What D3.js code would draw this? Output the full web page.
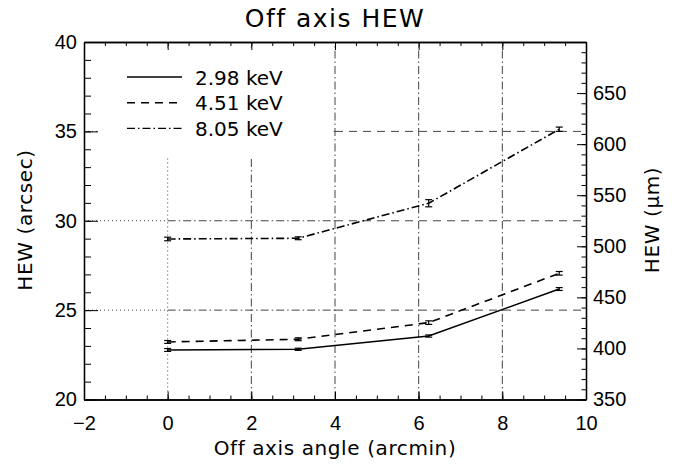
<!DOCTYPE html>
<html>
<head>
<meta charset="utf-8">
<script src="https://cdn.jsdelivr.net/npm/d3@7"></script>
<style>
  body { margin: 0; background: #fff; }
  svg { display: block; font-family: 'DejaVu Sans', sans-serif; }
</style>
</head>
<body>
<svg id="svg" width="683" height="465"></svg>
<script>
// data
var angles = [0, 3.12, 6.24, 9.36];          // arcmin
var hew298 = [22.77, 22.81, 23.55, 26.18];   // arcsec
var err298 = [0.08, 0.06, 0.06, 0.08];
var hew451 = [23.22, 23.37, 24.30, 27.06];
var err451 = [0.08, 0.08, 0.10, 0.10];
var hew805 = [28.98, 29.02, 30.98, 35.12];
var err805 = [0.10, 0.08, 0.20, 0.12];
var seriesNames = ['2.98 keV', '4.51 keV', '8.05 keV'];

var xTicks = [-2, 0, 2, 4, 6, 8, 10];
var yTicks = [20, 25, 30, 35, 40];
var umTicks = [350, 400, 450, 500, 550, 600, 650];

// reference lines
var vLines = [0, 2, 4, 6, 8];
var hLines = [25, 30, 35];

var svg = d3.select('#svg');
var margin = { top: 42, right: 97, bottom: 65.5, left: 84 };
var width = 683, height = 465;
var innerWidth = width - margin.left - margin.right;
var innerHeight = height - margin.top - margin.bottom;

var xScale = d3.scaleLinear().domain([-2, 10]).range([0, innerWidth]);
var yScale = d3.scaleLinear().domain([20, 40]).range([innerHeight, 0]);
var umScale = d3.scaleLinear().domain([350, 700]).range([innerHeight, 0]);

var g = svg.append('g').attr('transform', 'translate(' + margin.left + ',' + margin.top + ')');

var DOT = '1,3', DASHDOT = '8,3,1.5,3', DASH = '8,6';
var gridColor = '#444';

// vertical reference lines
vLines.forEach(function (v) {
  g.append('line')
    .attr('x1', xScale(v)).attr('x2', xScale(v))
    .attr('y1', yScale(20)).attr('y2', yScale(40))
    .attr('stroke', gridColor).attr('stroke-width', 1)
    .attr('stroke-dasharray', v === 0 ? DOT : DASHDOT);
});

// horizontal reference lines: dotted, dash-dot, dashed pieces
hLines.forEach(function (h) {
  var pieces = [[-2, 0, DOT], [0, 4, DASHDOT], [4, 10, DASH]];
  pieces.forEach(function (p) {
    g.append('line')
      .attr('x1', xScale(p[0])).attr('x2', xScale(p[1]))
      .attr('y1', yScale(h)).attr('y2', yScale(h))
      .attr('stroke', gridColor).attr('stroke-width', 1)
      .attr('stroke-dasharray', p[2]);
  });
});

// legend box covers the lines
var legend = g.append('g');
legend.append('rect')
  .attr('x', 13).attr('y', 6)
  .attr('width', 236).attr('height', 108)
  .attr('fill', '#fff');

var dashes = [null, '8,6', '8,3,1.5,3'];
seriesNames.forEach(function (name, i) {
  var yy = 35 + i * 25.7;
  legend.append('line')
    .attr('x1', 43).attr('x2', 98)
    .attr('y1', yy).attr('y2', yy)
    .attr('stroke', '#000').attr('stroke-width', 1.4)
    .attr('stroke-dasharray', dashes[i]);
  legend.append('text')
    .attr('x', 111).attr('y', yy + 7.5)
    .style('font-size', '20px')
    .text(name);
});

// data lines
var series = [
  { vals: hew298, err: err298, dash: null },
  { vals: hew451, err: err451, dash: '8,6' },
  { vals: hew805, err: err805, dash: '8,3,1.5,3' }
];

var line = d3.line()
  .x(function (d) { return xScale(d[0]); })
  .y(function (d) { return yScale(d[1]); });

series.forEach(function (s) {
  var pts = angles.map(function (a, i) { return [a, s.vals[i], s.err[i]]; });
  g.append('path')
    .attr('d', line(pts))
    .attr('fill', 'none')
    .attr('stroke', '#000').attr('stroke-width', 1.6)
    .attr('stroke-dasharray', s.dash);

  var bars = g.selectAll(null).data(pts).enter().append('g');
  bars.append('line')
    .attr('x1', function (d) { return xScale(d[0]); })
    .attr('x2', function (d) { return xScale(d[0]); })
    .attr('y1', function (d) { return yScale(d[1] - d[2]); })
    .attr('y2', function (d) { return yScale(d[1] + d[2]); })
    .attr('stroke', '#000').attr('stroke-width', 1.2);
  [-1, 1].forEach(function (sgn) {
    bars.append('line')
      .attr('x1', function (d) { return xScale(d[0]) - 3.5; })
      .attr('x2', function (d) { return xScale(d[0]) + 3.5; })
      .attr('y1', function (d) { return yScale(d[1] + sgn * d[2]); })
      .attr('y2', function (d) { return yScale(d[1] + sgn * d[2]); })
      .attr('stroke', '#000').attr('stroke-width', 1.2);
  });
});

// axes, ticks pointing inwards
function styleAxis(sel) {
  sel.select('.domain').attr('stroke', '#000').attr('stroke-width', 1.3);
  sel.selectAll('.tick line').attr('stroke', '#000').attr('stroke-width', 1);
  sel.selectAll('.tick text').style('font-size', '20px').attr('fill', '#000');
}
function dropLabels(sel) {
  sel.selectAll('.tick text').remove();
}

var xMinor = d3.range(-2, 10.01, 0.5);
g.append('g').attr('transform', 'translate(0,' + innerHeight + ')')
  .call(d3.axisBottom(xScale).tickValues(xMinor).tickSize(-4).tickSizeOuter(0))
  .call(styleAxis).call(dropLabels);
g.append('g').attr('transform', 'translate(0,' + innerHeight + ')')
  .call(d3.axisBottom(xScale).tickValues(xTicks).tickSize(-8).tickSizeOuter(0).tickPadding(16)
    .tickFormat(function (d) { return d < 0 ? '\u2212' + Math.abs(d) : d; }))
  .call(styleAxis);

g.append('g').call(d3.axisTop(xScale).tickValues(xMinor).tickSize(-4).tickSizeOuter(0))
  .call(styleAxis).call(dropLabels);
g.append('g').call(d3.axisTop(xScale).tickValues(xTicks).tickSize(-8).tickSizeOuter(0))
  .call(styleAxis).call(dropLabels);

var yMinor = d3.range(20, 40.01, 1);
g.append('g').call(d3.axisLeft(yScale).tickValues(yMinor).tickSize(-7).tickSizeOuter(0))
  .call(styleAxis).call(dropLabels);
g.append('g').call(d3.axisLeft(yScale).tickValues(yTicks).tickSize(-14).tickSizeOuter(0).tickPadding(7))
  .call(styleAxis);

var umMinor = d3.range(350, 700.01, 10);
g.append('g').attr('transform', 'translate(' + innerWidth + ',0)')
  .call(d3.axisRight(umScale).tickValues(umMinor).tickSize(-4.5).tickSizeOuter(0))
  .call(styleAxis).call(dropLabels);
g.append('g').attr('transform', 'translate(' + innerWidth + ',0)')
  .call(d3.axisRight(umScale).tickValues(umTicks).tickSize(-9).tickSizeOuter(0).tickPadding(7))
  .call(styleAxis);

// titles
svg.append('text')
  .attr('x', margin.left + innerWidth / 2).attr('y', 27)
  .attr('text-anchor', 'middle')
  .style('font-size', '25px').style('letter-spacing', '1.5px')
  .text('Off axis HEW');

svg.append('text')
  .attr('x', margin.left + innerWidth / 2).attr('y', 455)
  .attr('text-anchor', 'middle')
  .style('font-size', '20px').style('letter-spacing', '0.6px')
  .text('Off axis angle (arcmin)');

svg.append('text')
  .attr('transform', 'translate(32,220) rotate(-90)')
  .attr('text-anchor', 'middle')
  .style('font-size', '20px').style('letter-spacing', '0.6px')
  .text('HEW (arcsec)');

svg.append('text')
  .attr('transform', 'translate(659,220) rotate(-90)')
  .attr('text-anchor', 'middle')
  .style('font-size', '20px').style('letter-spacing', '0.6px')
  .text('HEW (\u03bcm)');
</script>
</body>
</html>
